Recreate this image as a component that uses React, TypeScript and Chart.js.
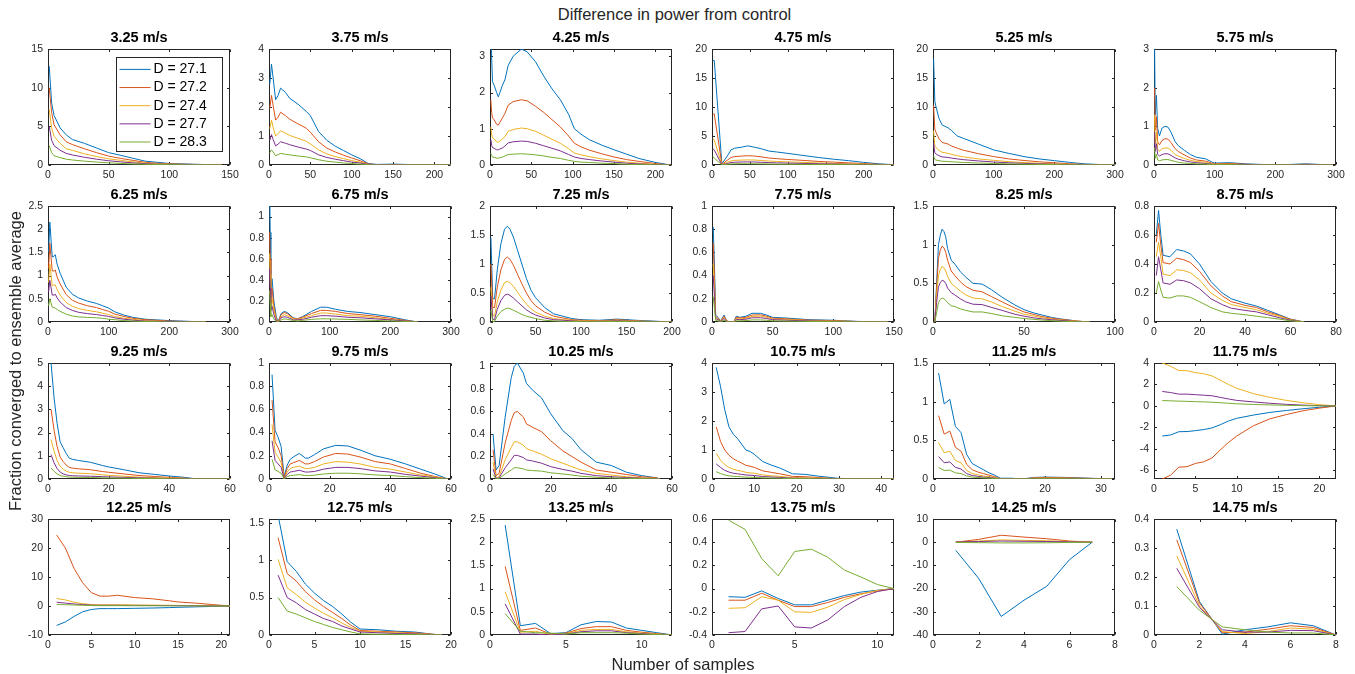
import React, { useEffect, useRef } from "react";
import { Chart, registerables } from "chart.js";

Chart.register(...registerables);

const FONT = '"Liberation Sans", Arial, Helvetica, sans-serif';
const AXIS_COLOR = "#262626";

const seriesLabels = ["D = 27.1", "D = 27.2", "D = 27.4", "D = 27.7", "D = 28.3"];
const seriesColors = ["#0072BD", "#D95319", "#EDB120", "#7E2F8E", "#77AC30"];

const panelTitles = [
  "3.25 m/s", "3.75 m/s", "4.25 m/s", "4.75 m/s", "5.25 m/s", "5.75 m/s",
  "6.25 m/s", "6.75 m/s", "7.25 m/s", "7.75 m/s", "8.25 m/s", "8.75 m/s",
  "9.25 m/s", "9.75 m/s", "10.25 m/s", "10.75 m/s", "11.25 m/s", "11.75 m/s",
  "12.25 m/s", "12.75 m/s", "13.25 m/s", "13.75 m/s", "14.25 m/s", "14.75 m/s",
];

// ---- axis limits and ticks (per panel) ----
const xMax = [150, 220, 220, 240, 300, 300, 300, 300, 200, 150, 100, 80, 60, 60, 60, 43, 32.5, 22, 21, 20, 12, 11, 8, 8];
const yMin = [0, 0, 0, 0, 0, 0, 0, 0, 0, 0, 0, 0, 0, 0, 0, 0, 0, -6.8, -10, 0, 0, -0.4, -40, 0];
const yMax = [15, 4, 3.2, 20, 20, 3, 2.5, 1.1, 2, 1, 1.5, 0.8, 5, 1, 1.03, 4, 1.5, 4, 30, 1.55, 2.5, 0.6, 10, 0.4];

const xTicks = [
  [0, 50, 100, 150], [0, 50, 100, 150, 200], [0, 50, 100, 150, 200], [0, 50, 100, 150, 200], [0, 100, 200, 300], [0, 100, 200, 300],
  [0, 100, 200, 300], [0, 100, 200, 300], [0, 50, 100, 150, 200], [0, 50, 100, 150], [0, 50, 100], [0, 20, 40, 60, 80],
  [0, 20, 40, 60], [0, 20, 40, 60], [0, 20, 40, 60], [0, 10, 20, 30, 40], [0, 10, 20, 30], [0, 5, 10, 15, 20],
  [0, 5, 10, 15, 20], [0, 5, 10, 15, 20], [0, 5, 10], [0, 5, 10], [0, 2, 4, 6, 8], [0, 2, 4, 6, 8],
];
const yTicks = [
  [0, 5, 10, 15], [0, 1, 2, 3, 4], [0, 1, 2, 3], [0, 5, 10, 15, 20], [0, 5, 10, 15, 20], [0, 1, 2, 3],
  [0, 0.5, 1, 1.5, 2, 2.5], [0, 0.2, 0.4, 0.6, 0.8, 1], [0, 0.5, 1, 1.5, 2], [0, 0.2, 0.4, 0.6, 0.8, 1], [0, 0.5, 1, 1.5], [0, 0.2, 0.4, 0.6, 0.8],
  [0, 1, 2, 3, 4, 5], [0, 0.2, 0.4, 0.6, 0.8, 1], [0, 0.2, 0.4, 0.6, 0.8, 1], [0, 1, 2, 3, 4], [0, 0.5, 1, 1.5], [-6, -4, -2, 0, 2, 4],
  [-10, 0, 10, 20, 30], [0, 0.5, 1, 1.5], [0, 0.5, 1, 1.5, 2, 2.5], [-0.4, -0.2, 0, 0.2, 0.4, 0.6], [-40, -30, -20, -10, 0, 10], [0, 0.1, 0.2, 0.3, 0.4],
];

// ---- data: sample numbers (x) and 5 series (D = 27.1, 27.2, 27.4, 27.7, 28.3) ----
const x325 = [1, 3, 5, 10, 15, 20, 30, 40, 50, 60, 70, 80, 90, 100, 120, 143];
const s325 = [
  [12.8, 8.0, 6.4, 4.8, 3.9, 3.3, 2.8, 2.2, 1.6, 1.25, 0.87, 0.5, 0.35, 0.2, 0.1, 0],
  [10.0, 6.8, 5.2, 3.9, 3.0, 2.65, 2.1, 1.6, 1.15, 0.85, 0.6, 0.35, 0.22, 0.14, 0.07, 0],
  [7.2, 4.8, 3.7, 2.8, 2.1, 1.9, 1.45, 1.1, 0.8, 0.6, 0.4, 0.25, 0.15, 0.1, 0.05, 0],
  [5.0, 3.2, 2.5, 1.9, 1.5, 1.3, 1.0, 0.75, 0.55, 0.4, 0.28, 0.17, 0.1, 0.07, 0.03, 0],
  [2.5, 1.6, 1.2, 0.95, 0.75, 0.65, 0.5, 0.38, 0.28, 0.2, 0.14, 0.09, 0.06, 0.04, 0.02, 0],
];

const x375 = [1, 3, 5, 8, 11, 14, 20, 25, 35, 45, 50, 60, 70, 80, 90, 100, 110, 120, 130, 150, 180, 220];
const s375 = [
  [2.8, 3.48, 3.0, 2.25, 2.4, 2.65, 2.5, 2.3, 2.1, 1.85, 1.7, 1.15, 0.85, 0.65, 0.5, 0.35, 0.22, 0.05, 0.02, 0.03, 0.01, 0],
  [1.95, 2.4, 2.05, 1.55, 1.65, 1.82, 1.7, 1.58, 1.42, 1.27, 1.13, 0.8, 0.58, 0.45, 0.34, 0.24, 0.15, 0.04, 0.01, 0.02, 0.01, 0],
  [1.25, 1.55, 1.3, 1.0, 1.08, 1.18, 1.1, 1.02, 0.92, 0.82, 0.73, 0.52, 0.38, 0.29, 0.22, 0.15, 0.1, 0.02, 0.01, 0.01, 0, 0],
  [0.85, 1.05, 0.88, 0.66, 0.72, 0.8, 0.75, 0.7, 0.62, 0.55, 0.5, 0.35, 0.26, 0.2, 0.15, 0.1, 0.07, 0.02, 0.01, 0.01, 0, 0],
  [0.42, 0.52, 0.45, 0.32, 0.36, 0.4, 0.37, 0.35, 0.31, 0.28, 0.25, 0.18, 0.13, 0.1, 0.07, 0.05, 0.03, 0.01, 0, 0, 0, 0],
];

const x425 = [1, 2, 3, 5, 8, 10, 12, 15, 18, 22, 28, 38, 45, 55, 65, 75, 85, 95, 102, 110, 120, 135, 150, 165, 180, 200, 218];
const s425 = [
  [3.6, 3.0, 2.3, 2.2, 2.0, 1.88, 2.0, 2.2, 2.35, 2.75, 3.0, 3.2, 3.12, 2.85, 2.45, 2.1, 1.8, 1.4, 1.0, 0.85, 0.7, 0.55, 0.42, 0.3, 0.18, 0.07, 0],
  [1.8, 1.45, 1.3, 1.25, 1.12, 1.1, 1.18, 1.3, 1.42, 1.65, 1.75, 1.8, 1.77, 1.62, 1.45, 1.25, 1.05, 0.8, 0.6, 0.5, 0.41, 0.31, 0.22, 0.15, 0.1, 0.04, 0],
  [1.05, 0.85, 0.75, 0.72, 0.64, 0.63, 0.66, 0.72, 0.78, 0.93, 0.98, 1.02, 1.0, 0.93, 0.82, 0.71, 0.6, 0.45, 0.33, 0.28, 0.23, 0.17, 0.12, 0.08, 0.05, 0.02, 0],
  [0.7, 0.55, 0.48, 0.46, 0.42, 0.42, 0.44, 0.47, 0.52, 0.61, 0.64, 0.66, 0.65, 0.6, 0.53, 0.46, 0.39, 0.29, 0.22, 0.18, 0.15, 0.11, 0.08, 0.05, 0.03, 0.01, 0],
  [0.32, 0.26, 0.22, 0.21, 0.19, 0.19, 0.2, 0.22, 0.25, 0.29, 0.3, 0.31, 0.3, 0.28, 0.25, 0.21, 0.18, 0.13, 0.1, 0.08, 0.07, 0.05, 0.04, 0.02, 0.01, 0.005, 0],
];

const x475 = [1, 3, 13, 20, 25, 30, 40, 47, 55, 65, 75, 85, 100, 120, 140, 160, 180, 200, 220, 240];
const s475 = [
  [18, 18, 0.2, 1.5, 2.6, 2.9, 3.1, 3.3, 3.1, 2.8, 2.4, 2.25, 2.0, 1.65, 1.3, 1.0, 0.75, 0.45, 0.2, 0.05],
  [8.8, 8.8, 0.1, 0.8, 1.3, 1.45, 1.55, 1.6, 1.55, 1.4, 1.2, 1.1, 0.95, 0.8, 0.62, 0.5, 0.37, 0.25, 0.12, 0.03],
  [4.5, 4.3, 0.05, 0.45, 0.7, 0.8, 0.85, 0.88, 0.86, 0.78, 0.68, 0.62, 0.54, 0.45, 0.36, 0.28, 0.21, 0.14, 0.07, 0.02],
  [2.8, 2.6, 0.03, 0.25, 0.42, 0.48, 0.52, 0.54, 0.52, 0.47, 0.41, 0.37, 0.33, 0.27, 0.22, 0.17, 0.13, 0.08, 0.04, 0.01],
  [1.4, 1.2, 0.02, 0.1, 0.18, 0.2, 0.22, 0.22, 0.21, 0.19, 0.17, 0.15, 0.13, 0.11, 0.09, 0.07, 0.05, 0.03, 0.02, 0],
];

const x525 = [1, 3, 5, 10, 15, 25, 30, 40, 50, 75, 100, 125, 150, 175, 200, 225, 250, 275, 300];
const s525 = [
  [18.3, 11, 10, 8, 6.9, 6.4, 6.0, 5.0, 4.6, 3.6, 2.6, 2.0, 1.45, 1.05, 0.75, 0.45, 0.2, 0.08, 0],
  [10.3, 6.2, 5.6, 4.5, 3.9, 3.6, 3.3, 2.9, 2.55, 1.95, 1.45, 1.05, 0.78, 0.55, 0.38, 0.22, 0.1, 0.04, 0],
  [5.9, 3.3, 3.0, 2.5, 2.2, 2.0, 1.85, 1.6, 1.4, 1.05, 0.8, 0.58, 0.42, 0.3, 0.2, 0.12, 0.06, 0.02, 0],
  [3.8, 2.1, 1.9, 1.6, 1.4, 1.3, 1.2, 1.05, 0.92, 0.7, 0.52, 0.38, 0.28, 0.2, 0.13, 0.08, 0.04, 0.01, 0],
  [1.6, 0.95, 0.85, 0.75, 0.65, 0.6, 0.56, 0.5, 0.44, 0.34, 0.26, 0.19, 0.14, 0.1, 0.07, 0.04, 0.02, 0.01, 0],
];

const x575 = [1, 2, 4, 6, 9, 13, 18, 23, 28, 35, 40, 50, 60, 70, 85, 95, 100, 125, 150, 200, 250, 295];
const s575 = [
  [3.0, 1.3, 1.8, 0.95, 0.75, 0.95, 1.0, 0.98, 0.85, 0.6, 0.5, 0.38, 0.27, 0.2, 0.16, 0.08, 0.05, 0.06, 0.03, 0.0, 0.03, 0],
  [2.0, 0.9, 1.25, 0.6, 0.52, 0.63, 0.68, 0.67, 0.58, 0.42, 0.35, 0.26, 0.18, 0.13, 0.1, 0.05, 0.03, 0.04, 0.02, 0.0, 0.02, 0],
  [1.3, 0.55, 0.85, 0.42, 0.35, 0.42, 0.44, 0.44, 0.38, 0.27, 0.23, 0.17, 0.12, 0.09, 0.07, 0.03, 0.02, 0.02, 0.01, 0, 0.01, 0],
  [0.85, 0.35, 0.55, 0.28, 0.23, 0.27, 0.29, 0.29, 0.25, 0.18, 0.15, 0.11, 0.08, 0.06, 0.04, 0.02, 0.01, 0.01, 0.01, 0, 0.01, 0],
  [0.45, 0.17, 0.28, 0.13, 0.11, 0.13, 0.14, 0.14, 0.12, 0.09, 0.07, 0.05, 0.04, 0.03, 0.02, 0.01, 0.01, 0.01, 0, 0, 0, 0],
];

const x625 = [1, 3, 7, 10, 12, 15, 20, 30, 40, 50, 65, 80, 90, 100, 110, 125, 140, 160, 200, 260];
const s625 = [
  [1.5, 2.15, 1.4, 1.42, 1.45, 1.25, 1.05, 0.75, 0.6, 0.52, 0.45, 0.4, 0.35, 0.3, 0.22, 0.15, 0.1, 0.06, 0.03, 0],
  [1.15, 1.7, 1.1, 1.1, 1.12, 0.97, 0.82, 0.59, 0.47, 0.41, 0.35, 0.31, 0.27, 0.23, 0.17, 0.12, 0.08, 0.05, 0.02, 0],
  [0.85, 1.25, 0.78, 0.8, 0.8, 0.7, 0.58, 0.42, 0.34, 0.29, 0.25, 0.22, 0.19, 0.16, 0.12, 0.08, 0.06, 0.03, 0.01, 0],
  [0.65, 0.9, 0.58, 0.58, 0.6, 0.52, 0.43, 0.31, 0.25, 0.21, 0.18, 0.16, 0.14, 0.12, 0.09, 0.06, 0.04, 0.02, 0.01, 0],
  [0.35, 0.5, 0.32, 0.31, 0.3, 0.27, 0.23, 0.17, 0.13, 0.11, 0.1, 0.09, 0.08, 0.06, 0.05, 0.03, 0.02, 0.01, 0, 0],
];

const x675 = [1, 2, 3, 5, 8, 12, 15, 20, 25, 30, 40, 47, 55, 70, 85, 95, 110, 130, 150, 175, 200, 225, 245];
const s675 = [
  [1.3, 0.85, 0.3, 0.41, 0.2, 0.05, 0, 0.08, 0.1, 0.09, 0.04, 0.03, 0.05, 0.1, 0.14, 0.14, 0.12, 0.1, 0.09, 0.07, 0.05, 0.02, 0],
  [0.85, 0.6, 0.22, 0.32, 0.15, 0.03, 0, 0.07, 0.09, 0.08, 0.035, 0.03, 0.045, 0.08, 0.11, 0.11, 0.1, 0.08, 0.07, 0.055, 0.035, 0.015, 0],
  [0.65, 0.45, 0.16, 0.23, 0.11, 0.02, 0, 0.05, 0.07, 0.06, 0.03, 0.025, 0.035, 0.06, 0.085, 0.085, 0.075, 0.06, 0.055, 0.04, 0.025, 0.01, 0],
  [0.5, 0.32, 0.11, 0.15, 0.07, 0.01, 0, 0.04, 0.05, 0.045, 0.02, 0.02, 0.025, 0.045, 0.06, 0.06, 0.055, 0.045, 0.04, 0.03, 0.02, 0.01, 0],
  [0.3, 0.18, 0.05, 0.07, 0.03, 0.005, 0, 0.02, 0.03, 0.025, 0.015, 0.01, 0.015, 0.025, 0.03, 0.03, 0.028, 0.025, 0.02, 0.015, 0.01, 0.005, 0],
];

const x725 = [1, 3, 5, 8, 12, 16, 19, 22, 26, 30, 35, 40, 45, 50, 60, 70, 80, 90, 100, 120, 140, 160, 200];
const s725 = [
  [1.45, 0.4, 0.4, 0.9, 1.35, 1.6, 1.65, 1.6, 1.45, 1.25, 1.0, 0.75, 0.55, 0.42, 0.25, 0.14, 0.1, 0.06, 0.04, 0.03, 0.05, 0.03, 0],
  [1.0, 0.25, 0.25, 0.6, 0.9, 1.08, 1.12, 1.08, 0.97, 0.83, 0.66, 0.5, 0.37, 0.28, 0.17, 0.1, 0.07, 0.04, 0.03, 0.02, 0.04, 0.02, 0],
  [0.6, 0.12, 0.1, 0.35, 0.55, 0.68, 0.7, 0.68, 0.61, 0.52, 0.41, 0.31, 0.23, 0.17, 0.1, 0.06, 0.04, 0.03, 0.02, 0.015, 0.03, 0.015, 0],
  [0.45, 0.05, 0.04, 0.22, 0.37, 0.46, 0.48, 0.46, 0.41, 0.35, 0.28, 0.21, 0.16, 0.12, 0.07, 0.04, 0.03, 0.02, 0.01, 0.01, 0.02, 0.01, 0],
  [0.2, 0.01, 0.01, 0.1, 0.18, 0.22, 0.24, 0.23, 0.2, 0.17, 0.13, 0.1, 0.08, 0.06, 0.03, 0.02, 0.01, 0.01, 0.005, 0.005, 0.01, 0.005, 0],
];

const x775 = [1, 2, 3, 5, 7, 10, 12, 15, 18, 20, 23, 28, 33, 40, 45, 50, 60, 80, 100, 120, 145];
const s775 = [
  [0.82, 0.5, 0.06, 0.04, 0.01, 0.06, 0.01, 0.0, 0.0, 0.05, 0.04, 0.05, 0.075, 0.075, 0.06, 0.04, 0.035, 0.02, 0.015, 0.005, 0],
  [0.68, 0.4, 0.05, 0.03, 0.01, 0.05, 0.01, 0, 0, 0.04, 0.035, 0.04, 0.06, 0.062, 0.05, 0.033, 0.028, 0.016, 0.012, 0.004, 0],
  [0.5, 0.3, 0.04, 0.025, 0.008, 0.04, 0.008, 0, 0, 0.03, 0.028, 0.032, 0.048, 0.05, 0.04, 0.026, 0.022, 0.012, 0.009, 0.003, 0],
  [0.4, 0.22, 0.03, 0.02, 0.005, 0.03, 0.005, 0, 0, 0.022, 0.02, 0.024, 0.036, 0.037, 0.03, 0.02, 0.016, 0.009, 0.006, 0.002, 0],
  [0.22, 0.12, 0.015, 0.01, 0.002, 0.015, 0.002, 0, 0, 0.01, 0.01, 0.012, 0.018, 0.018, 0.015, 0.01, 0.008, 0.005, 0.003, 0.001, 0],
];

const x825 = [1, 2, 3, 4, 5, 6, 7, 8, 10, 12, 15, 18, 22, 27, 32, 38, 45, 50, 55, 60, 65, 70, 80, 86];
const s825 = [
  [0, 0.5, 1.0, 1.12, 1.2, 1.17, 1.1, 0.95, 0.8, 0.75, 0.65, 0.58, 0.5, 0.49, 0.42, 0.32, 0.22, 0.16, 0.12, 0.09, 0.06, 0.04, 0.01, 0],
  [0, 0.45, 0.82, 0.93, 0.98, 0.96, 0.9, 0.8, 0.66, 0.6, 0.52, 0.46, 0.41, 0.39, 0.33, 0.26, 0.18, 0.13, 0.1, 0.07, 0.05, 0.035, 0.01, 0],
  [0, 0.35, 0.6, 0.68, 0.72, 0.7, 0.66, 0.59, 0.5, 0.46, 0.4, 0.35, 0.31, 0.3, 0.26, 0.2, 0.14, 0.1, 0.08, 0.055, 0.04, 0.025, 0.01, 0],
  [0, 0.25, 0.45, 0.51, 0.54, 0.53, 0.5, 0.44, 0.38, 0.35, 0.3, 0.26, 0.23, 0.225, 0.19, 0.15, 0.1, 0.075, 0.055, 0.04, 0.03, 0.02, 0.005, 0],
  [0, 0.12, 0.25, 0.29, 0.31, 0.3, 0.28, 0.25, 0.21, 0.2, 0.17, 0.15, 0.13, 0.13, 0.11, 0.08, 0.06, 0.045, 0.035, 0.025, 0.018, 0.01, 0.003, 0],
];

const x875 = [1, 2, 3, 4, 7, 10, 13, 16, 20, 25, 30, 34, 40, 45, 50, 55, 60, 66];
const s875 = [
  [0.6, 0.77, 0.6, 0.46, 0.45, 0.5, 0.49, 0.47, 0.4, 0.28, 0.2, 0.16, 0.13, 0.11, 0.08, 0.05, 0.02, 0],
  [0.55, 0.68, 0.53, 0.41, 0.4, 0.44, 0.43, 0.41, 0.35, 0.25, 0.18, 0.14, 0.115, 0.1, 0.07, 0.045, 0.018, 0],
  [0.45, 0.55, 0.45, 0.33, 0.32, 0.36, 0.355, 0.34, 0.29, 0.2, 0.15, 0.12, 0.1, 0.085, 0.06, 0.04, 0.015, 0],
  [0.32, 0.45, 0.36, 0.27, 0.26, 0.29, 0.285, 0.27, 0.23, 0.16, 0.12, 0.095, 0.08, 0.07, 0.05, 0.03, 0.012, 0],
  [0.2, 0.28, 0.22, 0.17, 0.165, 0.18, 0.18, 0.17, 0.14, 0.1, 0.07, 0.06, 0.05, 0.04, 0.03, 0.02, 0.008, 0],
];

const x925 = [1, 2, 3, 4, 5, 6, 7, 8, 10, 14, 18, 20, 25, 30, 35, 40, 45, 48, 50, 60];
const s925 = [
  [5.0, 3.5, 2.4, 1.6, 1.35, 1.1, 0.9, 0.85, 0.8, 0.72, 0.58, 0.52, 0.4, 0.27, 0.2, 0.13, 0.07, 0.02, 0, 0],
  [3.0, 2.1, 1.4, 0.95, 0.75, 0.6, 0.5, 0.47, 0.44, 0.4, 0.32, 0.29, 0.22, 0.15, 0.11, 0.07, 0.04, 0.01, 0, 0],
  [1.7, 1.2, 0.8, 0.55, 0.42, 0.34, 0.29, 0.27, 0.25, 0.23, 0.18, 0.16, 0.12, 0.08, 0.06, 0.04, 0.02, 0.005, 0, 0],
  [1.05, 0.7, 0.45, 0.3, 0.22, 0.18, 0.15, 0.14, 0.13, 0.12, 0.1, 0.09, 0.07, 0.05, 0.035, 0.02, 0.01, 0.003, 0, 0],
  [0.48, 0.33, 0.22, 0.15, 0.12, 0.1, 0.08, 0.075, 0.07, 0.065, 0.05, 0.045, 0.035, 0.025, 0.018, 0.01, 0.005, 0.001, 0, 0],
];

const x975 = [1, 2, 3, 4, 5, 6, 7, 8, 10, 12, 13, 15, 18, 22, 26, 30, 35, 40, 45, 50, 55, 59];
const s975 = [
  [0.9, 0.42, 0.36, 0.28, 0.02, 0.12, 0.17, 0.19, 0.22, 0.18, 0.18, 0.21, 0.26, 0.29, 0.285, 0.25, 0.2, 0.17, 0.13, 0.085, 0.04, 0],
  [0.68, 0.32, 0.27, 0.2, 0.01, 0.09, 0.13, 0.14, 0.16, 0.13, 0.13, 0.15, 0.19, 0.22, 0.215, 0.19, 0.15, 0.13, 0.09, 0.05, 0.02, 0],
  [0.47, 0.23, 0.19, 0.14, 0.005, 0.06, 0.09, 0.1, 0.11, 0.09, 0.09, 0.1, 0.13, 0.15, 0.145, 0.13, 0.1, 0.085, 0.06, 0.035, 0.015, 0],
  [0.33, 0.16, 0.13, 0.1, 0.003, 0.04, 0.06, 0.065, 0.075, 0.06, 0.06, 0.065, 0.085, 0.1, 0.1, 0.09, 0.07, 0.06, 0.04, 0.025, 0.01, 0],
  [0.17, 0.08, 0.065, 0.05, 0.001, 0.02, 0.03, 0.032, 0.038, 0.03, 0.03, 0.033, 0.043, 0.05, 0.05, 0.045, 0.035, 0.03, 0.02, 0.012, 0.005, 0],
];

const x1025 = [1, 2, 3, 5, 7, 8, 9, 11, 12, 14, 17, 20, 24, 27, 30, 35, 40, 45, 50, 55, 56];
const s1025 = [
  [0.4, 0.08, 0.12, 0.55, 0.9, 1.0, 1.03, 0.94, 0.85, 0.79, 0.72, 0.58, 0.43, 0.36, 0.26, 0.15, 0.12, 0.06, 0.03, 0.01, 0],
  [0.26, 0.03, 0.05, 0.32, 0.52, 0.59, 0.6, 0.55, 0.49, 0.46, 0.42, 0.34, 0.25, 0.2, 0.15, 0.08, 0.06, 0.04, 0.02, 0.01, 0],
  [0.15, 0.01, 0.02, 0.17, 0.28, 0.33, 0.33, 0.3, 0.27, 0.25, 0.22, 0.18, 0.14, 0.11, 0.08, 0.05, 0.035, 0.02, 0.01, 0.005, 0],
  [0.09, 0.005, 0.01, 0.1, 0.17, 0.21, 0.21, 0.19, 0.17, 0.16, 0.14, 0.11, 0.085, 0.07, 0.05, 0.03, 0.02, 0.013, 0.007, 0.003, 0],
  [0.04, 0.002, 0.005, 0.045, 0.08, 0.1, 0.1, 0.09, 0.08, 0.075, 0.07, 0.055, 0.045, 0.035, 0.025, 0.015, 0.01, 0.006, 0.003, 0.001, 0],
];

const x1075 = [1, 2, 3, 4, 5, 6, 7, 8, 9, 10, 12, 14, 16, 19, 22, 25, 30, 35, 43];
const s1075 = [
  [3.85, 3.2, 2.4, 1.8, 1.55, 1.4, 1.2, 1.0, 0.95, 0.85, 0.6, 0.48, 0.38, 0.18, 0.16, 0.1, 0.02, 0.01, 0],
  [1.8, 1.3, 1.0, 0.82, 0.7, 0.62, 0.55, 0.47, 0.44, 0.4, 0.28, 0.23, 0.18, 0.09, 0.08, 0.05, 0.01, 0.005, 0],
  [0.88, 0.65, 0.5, 0.4, 0.34, 0.3, 0.27, 0.23, 0.21, 0.2, 0.14, 0.11, 0.09, 0.045, 0.04, 0.025, 0.005, 0.002, 0],
  [0.52, 0.4, 0.3, 0.24, 0.2, 0.18, 0.16, 0.14, 0.13, 0.12, 0.085, 0.07, 0.055, 0.027, 0.024, 0.015, 0.003, 0.001, 0],
  [0.25, 0.19, 0.14, 0.11, 0.095, 0.085, 0.075, 0.065, 0.06, 0.055, 0.04, 0.033, 0.026, 0.013, 0.011, 0.007, 0.001, 0, 0],
];

const x1125 = [1, 2, 3, 4, 5, 6, 7, 8, 9, 10, 11, 12, 14, 16, 18, 20, 24, 28, 32];
const s1125 = [
  [1.37, 0.97, 1.03, 0.68, 0.6, 0.32, 0.2, 0.16, 0.12, 0.08, 0.05, 0.01, 0.01, 0.0, 0.02, 0.025, 0.02, 0.01, 0],
  [0.82, 0.58, 0.62, 0.41, 0.36, 0.19, 0.12, 0.09, 0.07, 0.05, 0.03, 0.005, 0.005, 0, 0.015, 0.02, 0.015, 0.008, 0],
  [0.47, 0.34, 0.36, 0.24, 0.21, 0.11, 0.07, 0.055, 0.04, 0.03, 0.02, 0.003, 0.003, 0, 0.01, 0.012, 0.01, 0.005, 0],
  [0.29, 0.21, 0.22, 0.15, 0.13, 0.07, 0.045, 0.035, 0.025, 0.018, 0.012, 0.002, 0.002, 0, 0.006, 0.008, 0.006, 0.003, 0],
  [0.15, 0.11, 0.115, 0.08, 0.07, 0.04, 0.025, 0.02, 0.015, 0.01, 0.007, 0.001, 0.001, 0, 0.003, 0.004, 0.003, 0.002, 0],
];

const x1175 = [1, 2, 3, 4, 5, 6, 7, 8, 9, 10, 12, 14, 16, 18, 20, 22];
const s1175 = [
  [-2.8, -2.7, -2.4, -2.38, -2.3, -2.2, -2.05, -1.75, -1.4, -1.15, -0.85, -0.6, -0.42, -0.26, -0.12, 0],
  [-6.8, -6.45, -5.7, -5.65, -5.35, -5.2, -4.85, -4.1, -3.4, -2.8, -1.85, -1.2, -0.8, -0.45, -0.2, 0],
  [4.0, 3.7, 3.3, 3.28, 3.1, 3.0, 2.8, 2.4, 2.0, 1.65, 1.15, 0.8, 0.52, 0.3, 0.12, 0],
  [1.35, 1.25, 1.1, 1.1, 1.05, 1.0, 0.95, 0.8, 0.65, 0.52, 0.38, 0.25, 0.15, 0.08, 0.03, 0],
  [0.5, 0.48, 0.45, 0.43, 0.4, 0.38, 0.35, 0.3, 0.25, 0.2, 0.14, 0.1, 0.06, 0.03, 0.01, 0],
];

const x1225 = [1, 2, 3, 4, 5, 6, 7, 8, 9, 10, 12, 14, 15, 17, 19, 21];
const s1225 = [
  [-6.7, -5.5, -3.6, -2.0, -1.2, -0.9, -0.9, -0.9, -0.85, -0.8, -0.7, -0.55, -0.45, -0.3, -0.15, 0],
  [24.5, 20, 13, 8, 4.6, 3.4, 3.4, 3.7, 3.3, 2.9, 2.5, 1.8, 1.4, 1.0, 0.5, 0],
  [2.6, 2.1, 1.3, 0.8, 0.5, 0.4, 0.4, 0.4, 0.4, 0.35, 0.3, 0.25, 0.2, 0.12, 0.06, 0],
  [1.3, 1.0, 0.7, 0.5, 0.3, 0.25, 0.25, 0.25, 0.23, 0.2, 0.18, 0.15, 0.12, 0.08, 0.04, 0],
  [0.5, 0.45, 0.35, 0.25, 0.15, 0.12, 0.12, 0.12, 0.11, 0.1, 0.09, 0.07, 0.06, 0.04, 0.02, 0],
];

const x1275 = [1, 2, 3, 4, 5, 6, 7, 8, 9, 10, 12, 14, 16, 18, 19];
const s1275 = [
  [1.6, 0.98, 0.85, 0.68, 0.56, 0.46, 0.38, 0.28, 0.17, 0.08, 0.07, 0.05, 0.04, 0.01, 0],
  [1.3, 0.82, 0.72, 0.58, 0.47, 0.38, 0.3, 0.22, 0.13, 0.06, 0.05, 0.04, 0.03, 0.01, 0],
  [1.01, 0.63, 0.54, 0.44, 0.36, 0.29, 0.23, 0.16, 0.1, 0.05, 0.04, 0.03, 0.02, 0.005, 0],
  [0.8, 0.5, 0.43, 0.34, 0.28, 0.22, 0.18, 0.12, 0.08, 0.04, 0.03, 0.02, 0.015, 0.003, 0],
  [0.5, 0.32, 0.28, 0.23, 0.18, 0.14, 0.1, 0.07, 0.04, 0.015, 0.01, 0.008, 0.006, 0.002, 0],
];

const x1325 = [1, 2, 3, 4, 5, 6, 7, 8, 9, 10, 11, 12];
const s1325 = [
  [2.37, 0.2, 0.25, 0.03, 0.05, 0.22, 0.29, 0.28, 0.15, 0.1, 0.05, 0],
  [1.48, 0.1, 0.15, 0.02, 0.04, 0.14, 0.18, 0.18, 0.1, 0.06, 0.03, 0],
  [0.93, 0.06, 0.08, 0.01, 0.03, 0.1, 0.12, 0.12, 0.07, 0.04, 0.02, 0],
  [0.67, 0.02, 0.02, 0.0, 0.02, 0.07, 0.09, 0.09, 0.05, 0.03, 0.01, 0],
  [0.46, 0.08, 0.05, 0.04, 0.02, 0.05, 0.05, 0.05, 0.04, 0.02, 0.01, 0],
];

const x1375 = [1, 2, 3, 4, 5, 6, 7, 8, 9, 10, 11];
const s1375 = [
  [-0.07, -0.075, -0.02, -0.085, -0.14, -0.14, -0.1, -0.06, -0.03, -0.014, 0],
  [-0.1, -0.1, -0.04, -0.1, -0.155, -0.155, -0.12, -0.075, -0.045, -0.02, 0],
  [-0.17, -0.165, -0.07, -0.1, -0.2, -0.205, -0.16, -0.095, -0.05, -0.015, 0],
  [-0.38, -0.37, -0.175, -0.15, -0.33, -0.34, -0.27, -0.155, -0.075, -0.025, 0],
  [0.59, 0.51, 0.26, 0.11, 0.32, 0.34, 0.27, 0.16, 0.1, 0.035, 0],
];

const x1425 = [1, 2, 3, 4, 5, 6, 7];
const s1425 = [
  [-3.5, -15.5, -32, -25, -19, -7.5, 0],
  [0, 1.2, 3, 2.2, 1.5, 0.5, 0],
  [0.2, 0.5, 1.0, 0.8, 0.6, 0.3, 0],
  [0.1, 0.3, 0.5, 0.4, 0.3, 0.15, 0],
  [-0.1, -0.2, -0.3, -0.3, -0.25, -0.1, 0],
];

const x1475 = [1, 2, 3, 4, 5, 6, 7, 8];
const s1475 = [
  [0.365, 0.115, 0.003, 0.018, 0.028, 0.042, 0.032, 0],
  [0.328, 0.11, 0.008, 0.01, 0.02, 0.032, 0.026, 0],
  [0.273, 0.1, 0.012, 0.005, 0.012, 0.024, 0.02, 0],
  [0.23, 0.095, 0.018, 0.01, 0.01, 0.016, 0.015, 0],
  [0.167, 0.085, 0.028, 0.018, 0.01, 0.007, 0.007, 0],
];

const panelX = [x325, x375, x425, x475, x525, x575, x625, x675, x725, x775, x825, x875, x925, x975, x1025, x1075, x1125, x1175, x1225, x1275, x1325, x1375, x1425, x1475];
const panelS = [s325, s375, s425, s475, s525, s575, s625, s675, s725, s775, s825, s875, s925, s975, s1025, s1075, s1125, s1175, s1225, s1275, s1325, s1375, s1425, s1475];

// ---- layout ----
const COL_LEFT = [48, 269, 490, 712, 933, 1154];
const ROW_TOP = [49, 206, 363, 519];
const PLOT_W = 182;
const PLOT_H = 116;
const PAD_L = 40;
const PAD_R = 16;
const PAD_T = 24;
const PAD_B = 22;

const boxPlugin = {
  id: "matlabBox",
  beforeDatasetsDraw(chart: any) {
    const { ctx, chartArea: a, scales } = chart;
    ctx.save();
    ctx.strokeStyle = AXIS_COLOR;
    ctx.lineWidth = 1;
    const L = Math.round(a.left) + 0.5;
    const T = Math.round(a.top) + 0.5;
    const R = Math.round(a.right) - 0.5;
    const B = Math.round(a.bottom) - 0.5;
    ctx.strokeRect(L, T, R - L, B - T);
    const tl = 2.5;
    ctx.beginPath();
    for (const t of scales.x.ticks) {
      const px = Math.round(scales.x.getPixelForValue(t.value)) + 0.5;
      ctx.moveTo(px, B);
      ctx.lineTo(px, B - tl);
      ctx.moveTo(px, T);
      ctx.lineTo(px, T + tl);
    }
    for (const t of scales.y.ticks) {
      const py = Math.round(scales.y.getPixelForValue(t.value)) + 0.5;
      ctx.moveTo(L, py);
      ctx.lineTo(L + tl, py);
      ctx.moveTo(R, py);
      ctx.lineTo(R - tl, py);
    }
    ctx.stroke();
    ctx.restore();
  },
};

const legendPlugin = {
  id: "insideLegend",
  afterDatasetsDraw(chart: any) {
    const { ctx, chartArea: a } = chart;
    const w = 106;
    const h = 94;
    const x0 = Math.round(a.left + 68);
    const y0 = Math.round(a.top + 8);
    ctx.save();
    ctx.fillStyle = "#ffffff";
    ctx.fillRect(x0, y0, w, h);
    ctx.strokeStyle = AXIS_COLOR;
    ctx.lineWidth = 1;
    ctx.strokeRect(x0 + 0.5, y0 + 0.5, w, h);
    ctx.font = `14px ${FONT}`;
    ctx.textBaseline = "middle";
    ctx.textAlign = "left";
    chart.data.datasets.forEach((ds: any, i: number) => {
      const cy = y0 + 12.4 + i * 18.15;
      ctx.strokeStyle = ds.borderColor;
      ctx.beginPath();
      ctx.moveTo(x0 + 3.5, cy);
      ctx.lineTo(x0 + 34.5, cy);
      ctx.stroke();
      ctx.fillStyle = "#000000";
      ctx.fillText(ds.label, x0 + 37.5, cy);
    });
    ctx.restore();
  },
};

function Panel({ idx }: { idx: number }) {
  const ref = useRef<HTMLCanvasElement>(null);
  const col = idx % 6;
  const row = Math.floor(idx / 6);
  const W = PAD_L + PLOT_W + PAD_R;
  const H = PAD_T + PLOT_H + PAD_B;

  useEffect(() => {
    const xs = panelX[idx];
    const ss = panelS[idx];
    const datasets = seriesLabels.map((label, s) => ({
      label,
      data: xs.map((x, k) => ({ x, y: ss[s][k] })),
      borderColor: seriesColors[s],
      backgroundColor: seriesColors[s],
      borderWidth: 1,
      pointRadius: 0,
      tension: 0,
      fill: false,
      order: 4 - s,
    }));
    const tickFont = { size: 10.5, family: FONT };
    const chart = new Chart(ref.current as HTMLCanvasElement, {
      type: "line",
      data: { datasets },
      options: {
        animation: false,
        responsive: false,
        events: [],
        layout: { padding: { left: 0, right: PAD_R, top: 0, bottom: 0 } },
        plugins: {
          legend: { display: false },
          tooltip: { enabled: false },
          title: {
            display: true,
            text: panelTitles[idx],
            fullSize: false,
            color: "#000000",
            font: { size: 14.5, weight: "bold", family: FONT, lineHeight: 1.2 },
            padding: { top: 4.3, bottom: 2.3 },
          },
        },
        scales: {
          x: {
            type: "linear",
            min: 0,
            max: xMax[idx],
            grid: { display: false, drawTicks: false },
            border: { display: false },
            afterBuildTicks: (sc: any) => {
              sc.ticks = xTicks[idx].map((v) => ({ value: v }));
            },
            afterFit: (sc: any) => {
              sc.height = PAD_B;
            },
            ticks: {
              padding: 3.7,
              color: AXIS_COLOR,
              font: tickFont,
              autoSkip: false,
              maxRotation: 0,
              minRotation: 0,
              callback: (v: any) => String(v),
            },
          },
          y: {
            type: "linear",
            min: yMin[idx],
            max: yMax[idx],
            grid: { display: false, drawTicks: false },
            border: { display: false },
            afterBuildTicks: (sc: any) => {
              sc.ticks = yTicks[idx].map((v) => ({ value: v }));
            },
            afterFit: (sc: any) => {
              sc.width = PAD_L;
            },
            ticks: {
              padding: 5,
              color: AXIS_COLOR,
              font: tickFont,
              autoSkip: false,
              callback: (v: any) => String(v),
            },
          },
        },
      } as any,
      plugins: idx === 0 ? [boxPlugin, legendPlugin] : [boxPlugin],
    } as any);
    return () => chart.destroy();
  }, [idx]);

  return (
    <canvas
      ref={ref}
      width={W}
      height={H}
      style={{
        position: "absolute",
        left: COL_LEFT[col] - PAD_L,
        top: ROW_TOP[row] - PAD_T,
        width: W,
        height: H,
      }}
    />
  );
}

export default function App() {
  const labelStyle: React.CSSProperties = {
    position: "absolute",
    height: 20,
    lineHeight: "20px",
    fontSize: 16.5,
    fontFamily: FONT,
    color: AXIS_COLOR,
    textAlign: "center",
    whiteSpace: "nowrap",
  };
  return (
    <div
      style={{
        position: "fixed",
        left: 0,
        top: 0,
        width: 1355,
        height: 674,
        background: "#ffffff",
        overflow: "hidden",
      }}
    >
      {panelTitles.map((_, i) => (
        <Panel key={i} idx={i} />
      ))}
      <div style={{ ...labelStyle, left: 674.5 - 300, top: 13.7 - 10, width: 600 }}>
        Difference in power from control
      </div>
      <div style={{ ...labelStyle, left: 683 - 300, top: 663.5 - 10, width: 600 }}>
        Number of samples
      </div>
      <div
        style={{
          ...labelStyle,
          left: 15 - 250,
          top: 361 - 10,
          width: 500,
          transform: "rotate(-90deg)",
        }}
      >
        Fraction converged to ensemble average
      </div>
    </div>
  );
}
